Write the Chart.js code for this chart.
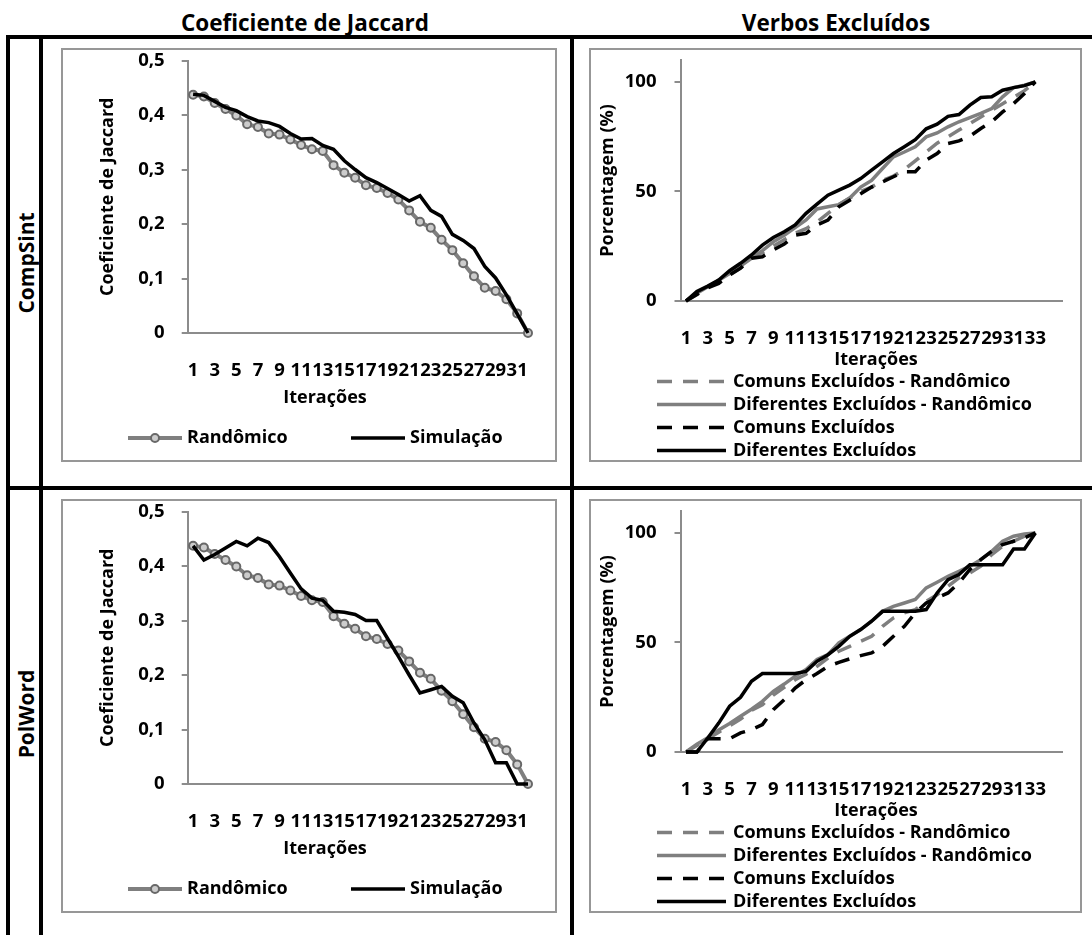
<!DOCTYPE html>
<html lang="pt">
<head>
<meta charset="utf-8">
<title>Coeficiente de Jaccard e Verbos Excluídos</title>
<script src="https://cdn.jsdelivr.net/npm/chart.js@4.4.1/dist/chart.umd.min.js"></script>
<style>
    html, body { margin: 0; padding: 0; background: #fff; }
    #sheet { position: relative; width: 1092px; height: 935px; overflow: hidden;
             font-family: "Open Sans", sans-serif; font-weight: bold; color: #000; }
    .rule { position: absolute; background: #000; }
    .head { position: absolute; font-size: 22.5px; line-height: 28px; white-space: nowrap;
            transform: translate(-50%, -50%); }
    .rowhead { position: absolute; font-size: 21px; line-height: 28px; white-space: nowrap;
               transform: translate(-50%, -50%) rotate(-90deg); }
    .frame { position: absolute; border: 2px solid #979797; box-sizing: border-box; }
    canvas { position: absolute; }
</style>
</head>
<body>
<div id="sheet">
    <div class="head" style="left:305px;top:23px">Coeficiente de Jaccard</div>
    <div class="head" style="left:836px;top:23px">Verbos Excluídos</div>

    <div class="rule" style="left:6px;top:35px;width:1086px;height:4px"></div>
    <div class="rule" style="left:6px;top:486px;width:1086px;height:4px"></div>
    <div class="rule" style="left:6px;top:35px;width:4px;height:900px"></div>
    <div class="rule" style="left:39px;top:35px;width:4px;height:900px"></div>
    <div class="rule" style="left:570px;top:35px;width:4px;height:900px"></div>

    <div class="rowhead" style="left:26px;top:263px">CompSint</div>
    <div class="rowhead" style="left:26px;top:714px">PolWord</div>

    <canvas id="jaccardCompSint" width="496" height="414" style="left:61px;top:48px"></canvas>
    <canvas id="verbosCompSint" width="493" height="414" style="left:589px;top:48px"></canvas>
    <canvas id="jaccardPolWord" width="496" height="414" style="left:61px;top:499px"></canvas>
    <canvas id="verbosPolWord" width="493" height="414" style="left:589px;top:499px"></canvas>

    <div class="frame" style="left:61px;top:48px;width:496px;height:414px"></div>
    <div class="frame" style="left:589px;top:48px;width:493px;height:414px"></div>
    <div class="frame" style="left:61px;top:499px;width:496px;height:414px"></div>
    <div class="frame" style="left:589px;top:499px;width:493px;height:414px"></div>
</div>

<script>
// iterations on the x axis
var iterJaccard = [1, 2, 3, 4, 5, 6, 7, 8, 9, 10, 11, 12, 13, 14, 15, 16,
                   17, 18, 19, 20, 21, 22, 23, 24, 25, 26, 27, 28, 29, 30, 31, 32];
var iterVerbos = [1, 2, 3, 4, 5, 6, 7, 8, 9, 10, 11, 12, 13, 14, 15, 16, 17,
                  18, 19, 20, 21, 22, 23, 24, 25, 26, 27, 28, 29, 30, 31, 32, 33];
var jaccardTicks = [1, 3, 5, 7, 9, 11, 13, 15, 17, 19, 21, 23, 25, 27, 29, 31];
var verbosTicks = [1, 3, 5, 7, 9, 11, 13, 15, 17, 19, 21, 23, 25, 27, 29, 31, 33];
var percentTicks = [0, 50, 100];

// Jaccard coefficient per iteration
var randomicoJaccard = [0.437, 0.434, 0.422, 0.411, 0.399, 0.383, 0.378, 0.366, 0.364, 0.355, 0.345,
                        0.337, 0.334, 0.308, 0.294, 0.285, 0.271, 0.266, 0.257, 0.245, 0.225, 0.204,
                        0.193, 0.171, 0.152, 0.128, 0.104, 0.083, 0.077, 0.062, 0.036, 0];
var simulacaoCompSint = [0.438, 0.436, 0.425, 0.414, 0.408, 0.397, 0.389, 0.386, 0.379, 0.366, 0.356,
                         0.357, 0.344, 0.337, 0.316, 0.300, 0.285, 0.276, 0.265, 0.254, 0.242, 0.252,
                         0.225, 0.214, 0.181, 0.170, 0.155, 0.122, 0.101, 0.070, 0.035, 0];
var simulacaoPolWord = [0.437, 0.411, 0.421, 0.433, 0.445, 0.437, 0.451, 0.443, 0.417, 0.387, 0.358,
                        0.341, 0.337, 0.317, 0.315, 0.311, 0.300, 0.300, 0.267, 0.234, 0.200, 0.167,
                        0.173, 0.179, 0.161, 0.149, 0.112, 0.081, 0.039, 0.039, 0, 0];

// excluded verbs (%) per iteration - CompSint
var comunsRandCompSint = [0, 3, 6, 9, 12, 15, 20, 22, 25, 28, 31, 33, 36, 40, 44, 47, 50,
                          52, 55, 57, 60, 64, 68, 72, 75, 78, 81, 84, 87, 90, 93, 96, 100];
var difRandCompSint = [0, 3.5, 6.5, 9.5, 12.5, 16, 19.5, 23, 27, 30, 33.5, 37, 42, 43, 44, 47, 52,
                       55, 60.5, 65.8, 68, 70.4, 74.9, 76.7, 79.5, 81.8, 83.7, 85.6, 87.8, 93.2, 97.4, 98.5, 100];
var comunsCompSint = [0, 3, 6, 8, 11.9, 15, 19.5, 20.2, 23.3, 26, 30, 30.9, 34.7, 36.9, 43, 46, 49,
                      52, 54.4, 56.7, 59, 59, 64.3, 67.3, 71.9, 73.1, 75.2, 78.7, 81.8, 86.3, 90.1, 94.7, 100];
var difCompSint = [0, 4.3, 6.8, 9.6, 13.8, 17.2, 21, 25.5, 29, 31.6, 34.7, 40, 44.2, 48.3, 50.6, 52.9, 55.9,
                   59.7, 63.5, 67.3, 70.4, 73.6, 78.6, 80.7, 84.3, 85.1, 89.4, 92.9, 93.2, 96.2, 97.4, 98.3, 100];

// excluded verbs (%) per iteration - PolWord
var comunsRandPolWord = [0, 3, 6, 9, 12, 15, 19, 21.6, 26, 29.5, 33, 35.5, 39.1, 42.9, 46, 48.2, 50.5,
                         52.8, 57.4, 61.2, 63.5, 65, 68.8, 71.8, 75.6, 79.5, 81.7, 84.8, 90.1, 93.9, 96.2, 98.5, 100];
var difRandPolWord = [0, 3.5, 6.5, 10, 13, 16.3, 19.5, 23.1, 27.7, 31, 34.6, 37.6, 42.2, 44.4, 49.8, 52.8, 55.9,
                      59.7, 64.2, 66.5, 68, 69.6, 74.9, 77.5, 80.2, 82.5, 84.8, 87.8, 91.6, 96.2, 98.5, 99.5, 100];
var comunsPolWord = [0, 0, 6.1, 6.1, 6.1, 8.7, 10.2, 12.5, 19.3, 23.9, 29.2, 33, 35.8, 39.1, 40.9, 42.5, 44,
                     45.2, 48.2, 52.8, 57.4, 63.5, 68, 70.3, 72.6, 77.2, 83.3, 87.8, 91.6, 94.7, 96.2, 97.7, 100];
var difPolWord = [0, 0, 6.4, 13.2, 20.9, 25, 32.3, 35.8, 35.8, 35.8, 35.8, 36.8, 41.4, 44.4, 48.2, 52.8, 55.9,
                  59.7, 64.2, 64.2, 64.2, 64.2, 65, 72.6, 78.7, 81, 85.5, 85.5, 85.5, 85.5, 92.7, 92.7, 100];

var GREY = '#7f7f7f';
var AXIS = '#8c8c8c';
var FONT = '"Open Sans", sans-serif';
var TICK_FONT = {size: 18.5, weight: 'bold'};

Chart.defaults.font.family = FONT;
Chart.defaults.font.size = 18;
Chart.defaults.font.weight = 'bold';
Chart.defaults.color = '#000';

// x axis title and a line-sample legend, drawn inside the chart frame
var captions = {
    id: 'captions',
    afterDraw: function (chart, args, opts) {
        var ctx = chart.ctx;
        ctx.save();
        ctx.font = 'bold 18px ' + FONT;
        ctx.fillStyle = '#000';
        ctx.textBaseline = 'middle';
        ctx.textAlign = 'center';
        ctx.fillText(opts.xTitle, opts.xTitleAt[0], opts.xTitleAt[1]);
        ctx.textAlign = 'left';
        opts.entries.forEach(function (entry) {
            var ds = chart.data.datasets[entry.dataset];
            var x0 = entry.x, x1 = entry.x + opts.sampleWidth, y = entry.y;
            ctx.save();
            ctx.strokeStyle = ds.borderColor;
            ctx.lineWidth = ds.borderWidth;
            ctx.setLineDash(ds.borderDash || []);
            ctx.beginPath();
            ctx.moveTo(x0, y);
            ctx.lineTo(x1, y);
            ctx.stroke();
            if (ds.pointRadius) {
                ctx.setLineDash([]);
                ctx.beginPath();
                ctx.arc((x0 + x1) / 2, y, ds.pointRadius, 0, Math.PI * 2);
                ctx.fillStyle = ds.pointBackgroundColor;
                ctx.fill();
                ctx.lineWidth = ds.pointBorderWidth;
                ctx.strokeStyle = ds.pointBorderColor;
                ctx.stroke();
            }
            ctx.restore();
            ctx.fillText(ds.label, x1 + opts.gap, y);
        });
        ctx.restore();
    }
};

function fixedTicks(values) {
    return function (axis) {
        axis.ticks = values.map(function (v) { return {value: v}; });
    };
}

// pin the axis box so the plot area sits where the frame expects it
function fixedWidth(width) {
    return function (axis) {
        axis.width = width;
        axis.paddingTop = 0;
        axis.paddingBottom = 0;
    };
}

function fixedHeight(height) {
    return function (axis) {
        axis.height = height;
        axis.paddingLeft = 0;
        axis.paddingRight = 0;
    };
}

function xAxis(max, ticks, height) {
    return {
        type: 'linear',
        min: 0.5,
        max: max,
        afterBuildTicks: fixedTicks(ticks),
        afterFit: fixedHeight(height),
        grid: {display: false, drawTicks: false},
        border: {color: AXIS, width: 2},
        ticks: {
            font: TICK_FONT,
            padding: 27,
            autoSkip: false,
            maxRotation: 0,
            callback: function (v) { return String(v); }
        }
    };
}

function jaccardChart(id, simulacao) {
    return new Chart(document.getElementById(id), {
        type: 'line',
        data: {
            labels: iterJaccard,
            datasets: [
                {
                    label: 'Randômico',
                    data: randomicoJaccard,
                    borderColor: GREY,
                    borderWidth: 4,
                    pointRadius: 4,
                    pointBorderWidth: 2,
                    pointBorderColor: '#686868',
                    pointBackgroundColor: '#cccccc',
                    order: 2
                },
                {
                    label: 'Simulação',
                    data: simulacao,
                    borderColor: '#000',
                    borderWidth: 3.5,
                    pointRadius: 0,
                    order: 1
                }
            ]
        },
        options: {
            responsive: false,
            animation: false,
            clip: false,
            layout: {padding: {top: 12.5, right: 29, left: 0, bottom: 0}},
            plugins: {
                legend: {display: false},
                tooltip: {enabled: false},
                captions: {
                    xTitle: 'Iterações',
                    xTitleAt: [264, 350],
                    sampleWidth: 54,
                    gap: 5,
                    entries: [
                        {dataset: 0, x: 67, y: 390},
                        {dataset: 1, x: 290, y: 390}
                    ]
                }
            },
            scales: {
                x: xAxis(32, jaccardTicks, 129),
                y: {
                    min: 0,
                    max: 0.5,
                    afterFit: fixedWidth(126.7),
                    grid: {drawOnChartArea: false, tickLength: 6, color: AXIS, lineWidth: 2},
                    border: {color: AXIS, width: 2},
                    ticks: {
                        font: TICK_FONT,
                        stepSize: 0.1,
                        padding: 17,
                        callback: function (v) {
                            return v === 0 ? '0' : v.toFixed(1).replace('.', ',');
                        }
                    },
                    title: {display: true, text: 'Coeficiente de Jaccard', padding: {top: 36, bottom: 0}}
                }
            }
        },
        plugins: [captions]
    });
}

function verbosChart(id, comunsRand, difRand, comuns, dif) {
    return new Chart(document.getElementById(id), {
        type: 'line',
        data: {
            labels: iterVerbos,
            datasets: [
                {label: 'Comuns Excluídos - Randômico', data: comunsRand, borderColor: GREY,
                 borderWidth: 3.5, borderDash: [15, 11], pointRadius: 0, order: 4},
                {label: 'Diferentes Excluídos - Randômico', data: difRand, borderColor: GREY,
                 borderWidth: 3.5, pointRadius: 0, order: 3},
                {label: 'Comuns Excluídos', data: comuns, borderColor: '#000',
                 borderWidth: 3.5, borderDash: [15, 11], pointRadius: 0, order: 2},
                {label: 'Diferentes Excluídos', data: dif, borderColor: '#000',
                 borderWidth: 3.5, pointRadius: 0, order: 1}
            ]
        },
        options: {
            responsive: false,
            animation: false,
            clip: false,
            layout: {padding: {top: 12, right: 19.3, left: 0, bottom: 0}},
            plugins: {
                legend: {display: false},
                tooltip: {enabled: false},
                captions: {
                    xTitle: 'Iterações',
                    xTitleAt: [287, 312],
                    sampleWidth: 69,
                    gap: 7,
                    entries: [
                        {dataset: 0, x: 68, y: 333.5},
                        {dataset: 1, x: 68, y: 356.5},
                        {dataset: 2, x: 68, y: 379.5},
                        {dataset: 3, x: 68, y: 402.5}
                    ]
                }
            },
            scales: {
                x: xAxis(35.5, verbosTicks, 161),
                y: {
                    min: 0,
                    max: 110,
                    afterBuildTicks: fixedTicks(percentTicks),
                    afterFit: fixedWidth(91.5),
                    grid: {drawOnChartArea: false, tickLength: 6, color: AXIS, lineWidth: 2},
                    border: {color: AXIS, width: 2},
                    ticks: {font: TICK_FONT, padding: 18},
                    title: {display: true, text: 'Porcentagem (%)', padding: {top: 8, bottom: 0}}
                }
            }
        },
        plugins: [captions]
    });
}

jaccardChart('jaccardCompSint', simulacaoCompSint);
jaccardChart('jaccardPolWord', simulacaoPolWord);
verbosChart('verbosCompSint', comunsRandCompSint, difRandCompSint, comunsCompSint, difCompSint);
verbosChart('verbosPolWord', comunsRandPolWord, difRandPolWord, comunsPolWord, difPolWord);
</script>
</body>
</html>
